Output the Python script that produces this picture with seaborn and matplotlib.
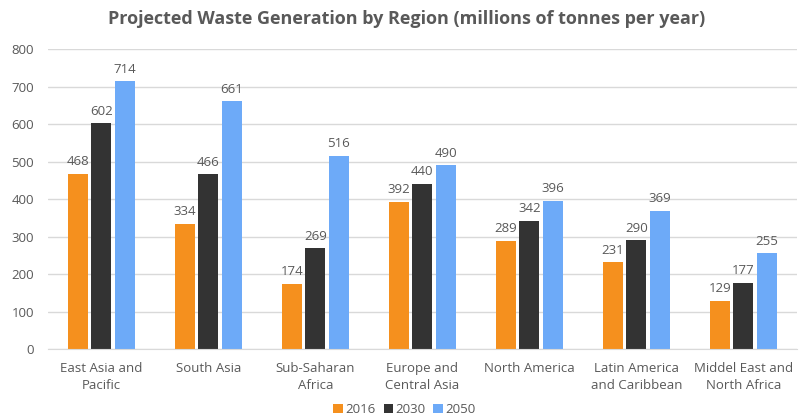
import matplotlib
matplotlib.use("Agg")
import matplotlib.pyplot as plt
import seaborn as sns
import pandas as pd

regions = ["East Asia and\nPacific", "South Asia", "Sub-Saharan\nAfrica", "Europe and\nCentral Asia",
           "North America", "Latin America\nand Caribbean", "Middel East and\nNorth Africa"]
years = ["2016", "2030", "2050"]
v2016 = [468, 334, 174, 392, 289, 231, 129]
v2030 = [602, 466, 269, 440, 342, 290, 177]
v2050 = [714, 661, 516, 490, 396, 369, 255]
colors = ["#F5901E", "#333333", "#6DAAF8"]

rows = []
for yr, vals in zip(years, [v2016, v2030, v2050]):
    for r, v in zip(regions, vals):
        rows.append({"region": r, "year": yr, "value": v})
df = pd.DataFrame(rows)

sns.set_style("white")
plt.rcParams['font.family'] = ['Open Sans', 'DejaVu Sans']

fig = plt.figure(figsize=(8.09, 4.17), dpi=100)
ax = fig.add_axes([0.059, 0.163, 0.926, 0.7195])
sns.barplot(data=df, x="region", y="value", hue="year", palette=colors,
            saturation=1, linewidth=0, edgecolor="none",
            width=0.66, gap=0.15, ax=ax, legend=True)

txt = "#595959"
for c in ax.containers:
    ax.bar_label(c, fmt="%d", padding=4, fontsize=9.5, color=txt)

ax.set_ylim(0, 800)
ax.set_yticks(range(0, 801, 100))
ax.set_xlim(-0.5, 6.5)
ax.yaxis.grid(True, color="#D9D9D9", linewidth=1)
ax.set_axisbelow(True)
for s in ["top", "right", "left"]:
    ax.spines[s].set_visible(False)
ax.spines["bottom"].set_color("#D9D9D9")
ax.tick_params(axis="both", length=0, labelsize=9.5, colors=txt)
ax.tick_params(axis="x", pad=9)
ax.tick_params(axis="y", pad=10)
for lbl in ax.get_xticklabels():
    lbl.set_linespacing(1.45)
ax.set_xlabel("")
ax.set_ylabel("")

fig.suptitle("Projected Waste Generation by Region (millions of tonnes per year)",
             x=0.503, y=0.975, fontsize=13, fontweight="bold", color="#595959")

leg = ax.legend(loc="lower center", bbox_to_anchor=(0.5, -0.027), bbox_transform=fig.transFigure,
                ncol=3, frameon=False, fontsize=9.5, handlelength=0.7, handleheight=0.7,
                handletextpad=0.2, columnspacing=0.6, labelcolor=txt)

fig.savefig("out.png", dpi=100)
